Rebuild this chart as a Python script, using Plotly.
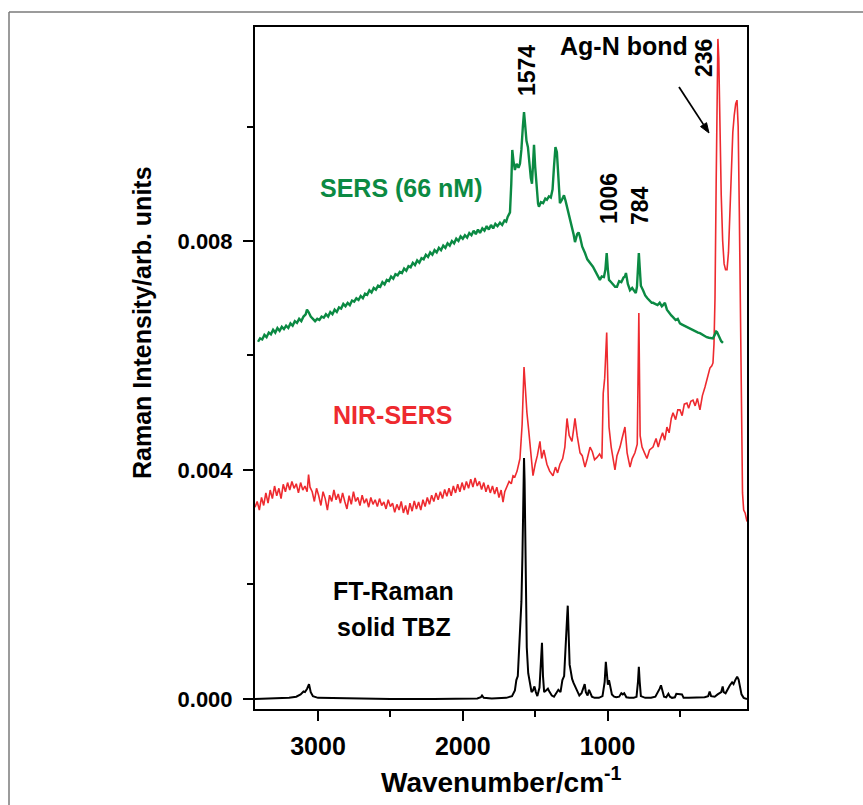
import math
import plotly.graph_objects as go

# ---------------- data ----------------
# FT-Raman solid TBZ (black)
ft_wn = [3435, 3300, 3200, 3150, 3120, 3100, 3090, 3075, 3062, 3050, 3035, 3000, 2800, 2500, 2200,
         1900, 1875, 1867, 1855, 1800, 1700, 1660, 1640, 1630, 1620, 1605, 1595, 1588, 1581, 1577,
         1573, 1566, 1558, 1548, 1536, 1525, 1515, 1505, 1495, 1485, 1470, 1460, 1453, 1446, 1438,
         1425, 1412, 1400, 1385, 1370, 1355, 1340, 1325, 1312, 1300, 1290, 1280, 1275, 1270, 1262,
         1255, 1245, 1235, 1225, 1210, 1195, 1180, 1168, 1158, 1150, 1138, 1128, 1120, 1108, 1090,
         1060, 1035, 1020, 1012, 1005, 998, 990, 982, 970, 955, 940, 920, 905, 895, 885,
         870, 850, 820, 800, 790, 784, 778, 770, 740, 700, 670, 650, 640, 631, 622,
         610, 595, 580, 569, 555, 535, 525, 486, 475, 440, 400, 330, 305, 295, 285,
         260, 240, 215, 205, 198, 185, 170, 155, 140, 130, 118, 105, 95, 85, 75,
         60, 37]
ft_int = [0.00000, 0.00001, 0.00002, 0.00004, 0.00008, 0.00013, 0.00012, 0.00018, 0.00026, 0.00012,
          0.00005, 0.00002, 0.00001, 0.00000, 0.00000, 0.00001, 0.00003, 0.00006, 0.00002, 0.00001,
          0.00002, 0.00005, 0.00015, 0.00033, 0.00040, 0.00120, 0.00170, 0.00250, 0.00400, 0.00421,
          0.00380, 0.00200, 0.00090, 0.00045, 0.00025, 0.00012, 0.00015, 0.00022, 0.00012, 0.00005,
          0.00020, 0.00060, 0.00098, 0.00040, 0.00012, 0.00015, 0.00018, 0.00012, 0.00006, 0.00004,
          0.00010, 0.00016, 0.00012, 0.00033, 0.00040, 0.00080, 0.00140, 0.00163, 0.00110, 0.00060,
          0.00050, 0.00035, 0.00028, 0.00022, 0.00012, 0.00006, 0.00010, 0.00020, 0.00026, 0.00012,
          0.00006, 0.00016, 0.00012, 0.00004, 0.00002, 0.00002, 0.00005, 0.00030, 0.00065, 0.00045,
          0.00025, 0.00033, 0.00020, 0.00008, 0.00004, 0.00003, 0.00004, 0.00010, 0.00008, 0.00010,
          0.00003, 0.00002, 0.00002, 0.00004, 0.00030, 0.00056, 0.00030, 0.00005, 0.00002, 0.00002,
          0.00004, 0.00012, 0.00018, 0.00024, 0.00014, 0.00004, 0.00003, 0.00009, 0.00004, 0.00002,
          0.00003, 0.00009, 0.00008, 0.00002, 0.00002, 0.00002, 0.00003, 0.00005, 0.00013, 0.00005,
          0.00004, 0.00008, 0.00012, 0.00022, 0.00012, 0.00010, 0.00018, 0.00024, 0.00029, 0.00026,
          0.00033, 0.00039, 0.00034, 0.00020, 0.00008, 0.00002, 0.00000]

# NIR-SERS (red)
nir_wn = [3435, 3420, 3405, 3390, 3375, 3360, 3345, 3330, 3315, 3300, 3285, 3270, 3255, 3240, 3225,
          3210, 3195, 3180, 3165, 3150, 3135, 3120, 3105, 3090, 3075, 3065, 3055, 3040, 3025, 3010,
          2995, 2980, 2965, 2950, 2935, 2920, 2905, 2890, 2875, 2860, 2845, 2830, 2815, 2800, 2785,
          2770, 2755, 2740, 2725, 2710, 2695, 2680, 2665, 2650, 2635, 2620, 2605, 2590, 2575, 2560,
          2545, 2530, 2515, 2500, 2485, 2470, 2455, 2440, 2425, 2410, 2395, 2380, 2365, 2350, 2335,
          2320, 2305, 2290, 2275, 2260, 2245, 2230, 2215, 2200, 2185, 2170, 2155, 2140, 2125, 2110,
          2095, 2080, 2065, 2050, 2035, 2020, 2005, 1990, 1975, 1960, 1945, 1930, 1915, 1900, 1885,
          1870, 1855, 1840, 1825, 1810, 1795, 1780, 1765, 1750, 1735, 1722, 1710, 1695, 1680, 1665,
          1653, 1640, 1625, 1605, 1590, 1577, 1565, 1557, 1545, 1536, 1525, 1515, 1500, 1485, 1467,
          1455, 1440, 1419, 1400, 1377, 1360, 1345, 1329, 1310, 1295, 1280, 1265, 1246, 1235, 1225,
          1210, 1190, 1175, 1156, 1140, 1121, 1105, 1090, 1073, 1055, 1039, 1030, 1020, 1006, 995,
          990, 975, 960, 949, 935, 914, 900, 880, 865, 845, 830, 811, 795, 784, 775,
          762, 745, 728, 710, 686, 665, 650, 638, 620, 605, 590, 575, 560, 548, 530,
          515, 500, 485, 470, 452, 440, 425, 410, 395, 380, 362, 345, 327, 310, 293,
          280, 272, 265, 258, 250, 244, 238, 232, 225, 215, 205, 195, 185, 175, 165,
          155, 145, 135, 125, 115, 106, 98, 90, 82, 75, 68, 60, 50, 37]
nir_int = [0.00335, 0.00345, 0.00330, 0.00352, 0.00338, 0.00360, 0.00342, 0.00365, 0.00350, 0.00372,
           0.00355, 0.00368, 0.00350, 0.00375, 0.00362, 0.00378, 0.00365, 0.00380, 0.00368, 0.00376,
           0.00360, 0.00378, 0.00365, 0.00372, 0.00362, 0.00392, 0.00370, 0.00362, 0.00345, 0.00368,
           0.00355, 0.00338, 0.00362, 0.00350, 0.00330, 0.00356, 0.00345, 0.00365, 0.00348, 0.00358,
           0.00342, 0.00360, 0.00345, 0.00332, 0.00355, 0.00340, 0.00362, 0.00345, 0.00352, 0.00338,
           0.00356, 0.00342, 0.00350, 0.00335, 0.00352, 0.00340, 0.00348, 0.00336, 0.00350, 0.00338,
           0.00344, 0.00332, 0.00348, 0.00336, 0.00342, 0.00326, 0.00340, 0.00330, 0.00345, 0.00325,
           0.00338, 0.00322, 0.00342, 0.00328, 0.00346, 0.00332, 0.00344, 0.00330, 0.00348, 0.00336,
           0.00352, 0.00340, 0.00356, 0.00345, 0.00360, 0.00348, 0.00362, 0.00350, 0.00366, 0.00354,
           0.00368, 0.00355, 0.00372, 0.00360, 0.00375, 0.00362, 0.00378, 0.00365, 0.00380, 0.00368,
           0.00384, 0.00370, 0.00386, 0.00372, 0.00380, 0.00366, 0.00378, 0.00362, 0.00374, 0.00360,
           0.00372, 0.00358, 0.00370, 0.00352, 0.00365, 0.00344, 0.00362, 0.00372, 0.00380, 0.00376,
           0.00390, 0.00388, 0.00398, 0.00420, 0.00480, 0.00580, 0.00530, 0.00500, 0.00470, 0.00447,
           0.00420, 0.00390, 0.00410, 0.00425, 0.00450, 0.00420, 0.00435, 0.00410, 0.00398, 0.00390,
           0.00405, 0.00395, 0.00410, 0.00420, 0.00440, 0.00490, 0.00460, 0.00450, 0.00470, 0.00490,
           0.00460, 0.00430, 0.00425, 0.00405, 0.00420, 0.00440, 0.00432, 0.00418, 0.00422, 0.00428,
           0.00420, 0.00534, 0.00560, 0.00640, 0.00520, 0.00475, 0.00440, 0.00415, 0.00400, 0.00425,
           0.00440, 0.00455, 0.00475, 0.00430, 0.00405, 0.00420, 0.00430, 0.00445, 0.00674, 0.00460,
           0.00440, 0.00430, 0.00420, 0.00435, 0.00440, 0.00455, 0.00440, 0.00452, 0.00465, 0.00452,
           0.00475, 0.00465, 0.00490, 0.00500, 0.00488, 0.00505, 0.00505, 0.00495, 0.00515, 0.00517,
           0.00508, 0.00520, 0.00522, 0.00512, 0.00525, 0.00505, 0.00530, 0.00545, 0.00560, 0.00578,
           0.00582, 0.00587, 0.00620, 0.00700, 0.00900, 0.01100, 0.01153, 0.01120, 0.01000, 0.00880,
           0.00800, 0.00760, 0.00750, 0.00750, 0.00780, 0.00850, 0.00930, 0.00990, 0.01020, 0.01040,
           0.01046, 0.01000, 0.00850, 0.00700, 0.00520, 0.00360, 0.00330, 0.00325, 0.00310]

# SERS 66 nM (green)
sers_wn = [3414, 3400, 3385, 3370, 3355, 3340, 3325, 3310, 3295, 3280, 3265, 3250, 3235, 3220, 3205,
           3190, 3175, 3160, 3145, 3130, 3115, 3100, 3085, 3076, 3065, 3050, 3035, 3020, 3005, 2990,
           2975, 2960, 2945, 2930, 2915, 2900, 2885, 2870, 2855, 2840, 2825, 2810, 2795, 2780, 2765,
           2750, 2735, 2720, 2705, 2690, 2675, 2660, 2645, 2630, 2615, 2600, 2585, 2570, 2555, 2540,
           2525, 2510, 2495, 2480, 2465, 2450, 2435, 2420, 2405, 2390, 2375, 2360, 2345, 2330, 2315,
           2300, 2285, 2270, 2255, 2240, 2225, 2210, 2195, 2180, 2165, 2150, 2135, 2120, 2105, 2090,
           2075, 2060, 2045, 2030, 2015, 2000, 1985, 1970, 1955, 1940, 1925, 1910, 1895, 1881, 1865,
           1850, 1835, 1820, 1805, 1790, 1775, 1760, 1743, 1728, 1712, 1700, 1690, 1674, 1665, 1658,
           1650, 1640, 1628, 1615, 1605, 1595, 1585, 1577, 1570, 1560, 1550, 1540, 1530, 1522, 1515,
           1508, 1500, 1490, 1480, 1474, 1460, 1445, 1430, 1419, 1405, 1392, 1380, 1370, 1360, 1350,
           1340, 1329, 1315, 1301, 1290, 1275, 1260, 1245, 1235, 1225, 1210, 1200, 1190, 1175, 1165,
           1156, 1140, 1125, 1110, 1101, 1085, 1070, 1053, 1040, 1025, 1015, 1006, 998, 990, 975,
           960, 948, 935, 920, 905, 890, 880, 873, 860, 845, 830, 815, 805, 797, 790,
           784, 777, 770, 755, 740, 725, 710, 695, 686, 670, 655, 640, 625, 617, 604,
           590, 575, 560, 548, 530, 515, 500, 485, 470, 452, 435, 420, 405, 390, 375,
           362, 345, 330, 315, 300, 285, 272, 260, 250, 244, 235, 225, 215, 203]
sers_int = [0.00624, 0.00630, 0.00628, 0.00636, 0.00632, 0.00640, 0.00637, 0.00645, 0.00640, 0.00648,
            0.00643, 0.00650, 0.00646, 0.00652, 0.00648, 0.00656, 0.00652, 0.00660, 0.00657, 0.00664,
            0.00660, 0.00668, 0.00672, 0.00680, 0.00676, 0.00668, 0.00664, 0.00660, 0.00664, 0.00662,
            0.00668, 0.00666, 0.00672, 0.00668, 0.00676, 0.00672, 0.00680, 0.00676, 0.00684, 0.00682,
            0.00690, 0.00686, 0.00692, 0.00688, 0.00696, 0.00694, 0.00700, 0.00697, 0.00704, 0.00700,
            0.00708, 0.00706, 0.00714, 0.00710, 0.00718, 0.00715, 0.00722, 0.00720, 0.00728, 0.00724,
            0.00732, 0.00730, 0.00738, 0.00734, 0.00742, 0.00740, 0.00746, 0.00744, 0.00752, 0.00748,
            0.00756, 0.00754, 0.00762, 0.00758, 0.00766, 0.00762, 0.00770, 0.00768, 0.00776, 0.00772,
            0.00780, 0.00776, 0.00784, 0.00780, 0.00788, 0.00784, 0.00792, 0.00788, 0.00796, 0.00792,
            0.00800, 0.00796, 0.00804, 0.00800, 0.00808, 0.00804, 0.00810, 0.00806, 0.00814, 0.00810,
            0.00818, 0.00812, 0.00820, 0.00814, 0.00822, 0.00818, 0.00826, 0.00820, 0.00828, 0.00822,
            0.00830, 0.00826, 0.00832, 0.00828, 0.00836, 0.00834, 0.00842, 0.00850, 0.00900, 0.00959,
            0.00940, 0.00924, 0.00935, 0.00928, 0.00935, 0.00960, 0.01000, 0.01025, 0.01005, 0.00975,
            0.00964, 0.00930, 0.00910, 0.00900, 0.00935, 0.00968, 0.00930, 0.00890, 0.00865, 0.00860,
            0.00868, 0.00866, 0.00874, 0.00872, 0.00878, 0.00876, 0.00890, 0.00930, 0.00964, 0.00955,
            0.00910, 0.00866, 0.00872, 0.00880, 0.00870, 0.00855, 0.00842, 0.00825, 0.00812, 0.00798,
            0.00812, 0.00815, 0.00807, 0.00790, 0.00785, 0.00779, 0.00768, 0.00762, 0.00758, 0.00755,
            0.00748, 0.00740, 0.00732, 0.00738, 0.00737, 0.00750, 0.00779, 0.00750, 0.00732, 0.00728,
            0.00724, 0.00720, 0.00720, 0.00730, 0.00728, 0.00736, 0.00738, 0.00744, 0.00725, 0.00714,
            0.00718, 0.00712, 0.00709, 0.00720, 0.00750, 0.00779, 0.00750, 0.00722, 0.00714, 0.00705,
            0.00700, 0.00696, 0.00692, 0.00692, 0.00690, 0.00688, 0.00692, 0.00686, 0.00688, 0.00692,
            0.00680, 0.00674, 0.00670, 0.00667, 0.00662, 0.00664, 0.00656, 0.00654, 0.00652, 0.00650,
            0.00648, 0.00645, 0.00644, 0.00641, 0.00640, 0.00639, 0.00636, 0.00634, 0.00632, 0.00631,
            0.00630, 0.00630, 0.00636, 0.00642, 0.00641, 0.00635, 0.00630, 0.00625, 0.00622]

x_tickvals = [3000, 2000, 1000]
x_ticktext = ["3000", "2000", "1000"]
x_minor = [2500, 1500, 500]
y_tickvals = [0.000, 0.004, 0.008]
y_ticktext = ["0.000", "0.004", "0.008"]
y_minor = [0.002, 0.006, 0.010]

GREEN = "#0b8a43"
RED = "#ee2a2f"
FONT = "Liberation Sans"

# ---------------- layout geometry (pixels) ----------------
W, H = 863, 805
L, R, T, B = 255, 747, 27, 709


def px(xp, yp):
    return (xp - L) / (R - L), (B - yp) / (B - T)


fig = go.Figure()
fig.add_trace(go.Scatter(x=ft_wn, y=ft_int, mode="lines",
                         line=dict(color="black", width=2), showlegend=False))
fig.add_trace(go.Scatter(x=nir_wn, y=nir_int, mode="lines",
                         line=dict(color=RED, width=1.6), showlegend=False))
fig.add_trace(go.Scatter(x=sers_wn, y=sers_int, mode="lines",
                         line=dict(color=GREEN, width=2.4), showlegend=False))

annots = []


def txt(text, xp, yp, size, color="black", angle=0):
    x, y = px(xp, yp)
    annots.append(dict(text=text, x=x, y=y, xref="paper", yref="paper", showarrow=False,
                       xanchor="center", yanchor="middle", textangle=angle,
                       font=dict(family=FONT, size=size, color=color, weight="bold")))


txt("SERS (66 nM)", 401, 188, 25, GREEN)
txt("NIR-SERS", 392, 415, 25, RED)
txt("FT-Raman", 393, 591, 25)
txt("solid TBZ", 394, 627, 25)
txt("1574", 527, 71, 23, angle=-90)
txt("1006", 609, 199, 23, angle=-90)
txt("784", 640, 206, 23, angle=-90)
txt("236", 704, 58, 23, angle=-90)
txt("Ag-N bond", 624, 46, 25)
txt("Raman Intensity/arb. units", 142, 323, 25, angle=-90)
txt("Wavenumber/cm<sup>-1</sup>", 501, 780, 28)

shapes = []

# arrow toward the 236 band (shaft + head)
ax0, ay0, ax1, ay1 = 679, 87, 709, 133
dx, dy = ax1 - ax0, ay1 - ay0
ln = math.hypot(dx, dy)
ux, uy = dx / ln, dy / ln
hl, hw = 10, 3.6
bx, by = ax1 - hl * ux, ay1 - hl * uy
p1 = px(ax1, ay1)
p2 = px(bx - hw * uy, by + hw * ux)
p3 = px(bx + hw * uy, by - hw * ux)
s0 = px(ax0, ay0)
sb = px(bx, by)
shapes.append(dict(type="line", xref="paper", yref="paper", x0=s0[0], y0=s0[1],
                   x1=sb[0], y1=sb[1], line=dict(color="black", width=1.8)))
shapes.append(dict(type="path", xref="paper", yref="paper",
                   path=f"M {p1[0]} {p1[1]} L {p2[0]} {p2[1]} L {p3[0]} {p3[1]} Z",
                   fillcolor="black", line=dict(color="black", width=1)))

# outer grey frame (top and left edges)
fx0, fy0 = px(9, 12)
fx1, _ = px(W + 5, 12)
_, fy1 = px(9, H + 5)
shapes.append(dict(type="line", xref="paper", yref="paper", x0=fx0, y0=fy0, x1=fx1, y1=fy0,
                   line=dict(color="#7a7a7a", width=1.5)))
shapes.append(dict(type="line", xref="paper", yref="paper", x0=fx0, y0=fy0, x1=fx0, y1=fy1,
                   line=dict(color="#7a7a7a", width=1.5)))

fig.update_layout(
    width=W, height=H,
    margin=dict(l=L, r=W - R, t=T, b=H - B, pad=0),
    paper_bgcolor="white", plot_bgcolor="white",
    annotations=annots, shapes=shapes, showlegend=False,
)
fig.update_xaxes(
    range=[3435, 37], autorange=False,
    showline=True, mirror=True, linecolor="black", linewidth=2,
    showgrid=False, zeroline=False,
    tickmode="array", tickvals=x_tickvals, ticktext=x_ticktext,
    ticks="outside", ticklen=10, tickwidth=2, tickcolor="black",
    minor=dict(tickmode="array", tickvals=x_minor, ticks="outside", ticklen=6,
               tickwidth=2, tickcolor="black", showgrid=False),
    tickfont=dict(family=FONT, size=25, color="black", weight="bold"),
    ticklabelstandoff=4,
)
fig.update_yaxes(
    range=[-0.000175, 0.011738], autorange=False,
    showline=True, mirror=True, linecolor="black", linewidth=2,
    showgrid=False, zeroline=False,
    tickmode="array", tickvals=y_tickvals, ticktext=y_ticktext,
    ticks="outside", ticklen=10, tickwidth=2, tickcolor="black",
    minor=dict(tickmode="array", tickvals=y_minor, ticks="outside", ticklen=6,
               tickwidth=2, tickcolor="black", showgrid=False),
    tickfont=dict(family=FONT, size=22, color="black", weight="bold"),
    ticklabelstandoff=6,
)

fig.write_html("out.html",
               config={"displayModeBar": False, "staticPlot": True},
               post_script="document.body.style.margin='0px';document.body.style.padding='0px';")
